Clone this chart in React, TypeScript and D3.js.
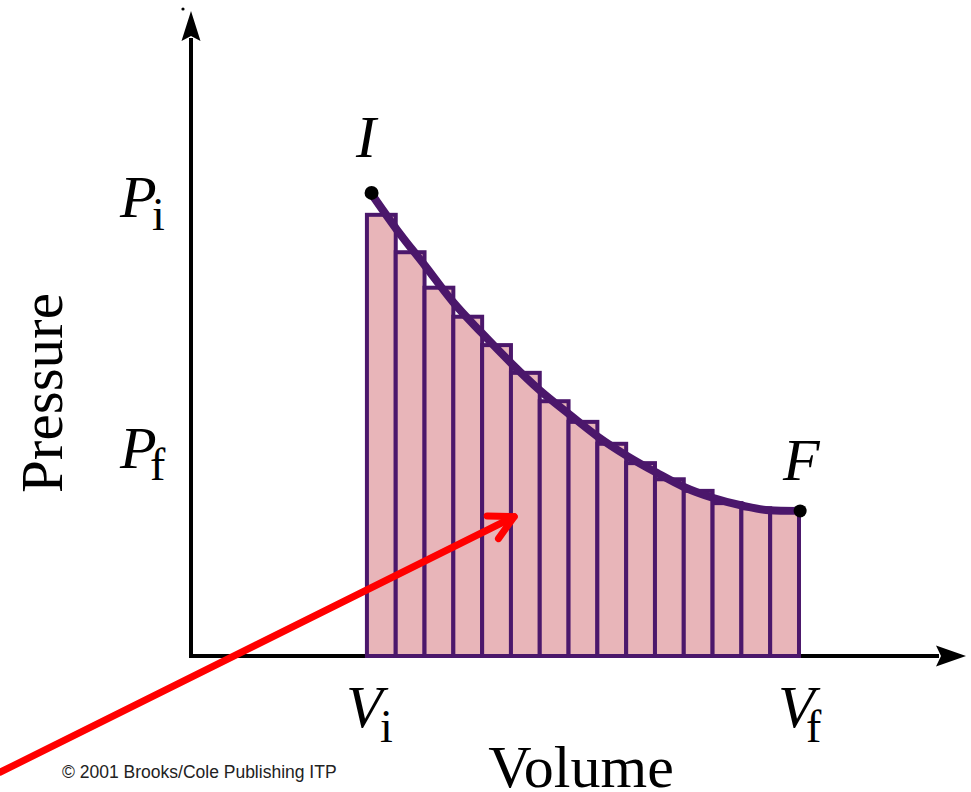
import React from "react";
import * as d3 from "d3";

// ---- data (arbitrary units: Volume 0-100, Pressure 0-100) ----
const V_I = 22.7;
const V_F = 78.45;
const barPressures = [68.4, 62.6, 57.1, 52.6, 48.2, 43.9, 39.5, 36.3, 32.9, 29.9, 27.4, 25.6, 23.7, 22.9, 22.5];
const curveVolumes = [23.2, 26.5, 30.2, 33.8, 37.5, 41.4, 45.0, 48.9, 52.5, 56.3, 60.1, 63.6, 67.4, 71.2, 74.6, 78.2];
const curvePressures = [71.8, 66.2, 60.5, 54.9, 50.1, 45.3, 41.2, 37.4, 34.0, 31.0, 28.4, 26.2, 24.5, 23.3, 22.6, 22.5];
const pointI = { v: 23.3, p: 71.8 };
const pointF = { v: 78.6, p: 22.5 };
const redArrowFrom = { v: -24.6, p: -18.0 };
const redArrowTo = { v: 41.7, p: 21.6 };
const xLabel = "Volume";
const yLabel = "Pressure";
const credit = "© 2001 Brooks/Cole Publishing ITP";

const W = 971;
const H = 792;
const PURPLE = "#4b176b";
const PINK = "#e8b5b9";
const SERIF = "'Liberation Serif', 'DejaVu Serif', serif";

export default function App() {
  const x = d3.scaleLinear().domain([0, 100]).range([191, 966]);
  const y = d3.scaleLinear().domain([0, 100]).range([656, 11]);
  const band = d3
    .scaleBand<number>()
    .domain(d3.range(barPressures.length))
    .range([x(V_I), x(V_F)])
    .padding(0);

  const curvePts: [number, number][] = curveVolumes.map((v, i) => [v, curvePressures[i]]);
  const line = d3
    .line<[number, number]>()
    .x((d) => x(d[0]))
    .y((d) => y(d[1]))
    .curve(d3.curveMonotoneX);

  const x0 = x(0);
  const y0 = y(0);
  const xEnd = x(100);
  const yEnd = y(100);

  // red arrow
  const ax0 = x(redArrowFrom.v), ay0 = y(redArrowFrom.p);
  const ax1 = x(redArrowTo.v), ay1 = y(redArrowTo.p);
  const ang = Math.atan2(ay0 - ay1, ax0 - ax1);
  const headLen = 27;
  const spread = (28 * Math.PI) / 180;
  const h1 = [ax1 + headLen * Math.cos(ang + spread), ay1 + headLen * Math.sin(ang + spread)];
  const h2 = [ax1 + headLen * Math.cos(ang - spread), ay1 + headLen * Math.sin(ang - spread)];

  const labelSize = 60;
  const subSize = 46;

  return (
    <svg
      width={W}
      height={H}
      style={{ position: "absolute", left: 0, top: 0, background: "#fff" }}
      xmlns="http://www.w3.org/2000/svg"
    >
      <rect x={0} y={0} width={W} height={H} fill="#fff" />
      {/* axes */}
      <path
        d={`M${x0},${yEnd + 27} L${x0},${y0} L${xEnd - 27},${y0}`}
        fill="none"
        stroke="#000"
        strokeWidth={4}
        strokeLinejoin="miter"
      />
      <path
        d={`M${x0},${yEnd} L${x0 + 9.5},${yEnd + 30} L${x0},${yEnd + 25} L${x0 - 9.5},${yEnd + 30} Z`}
        fill="#000"
      />
      <path
        d={`M${xEnd},${y0} L${xEnd - 30},${y0 - 10.5} L${xEnd - 25},${y0} L${xEnd - 30},${y0 + 10.5} Z`}
        fill="#000"
      />
      <circle cx={183} cy={9} r={1.6} fill="#000" />

      {/* bars */}
      {barPressures.map((p, i) => (
        <rect
          key={i}
          x={band(i)}
          y={y(p)}
          width={band.bandwidth()}
          height={y0 - y(p)}
          fill={PINK}
          stroke={PURPLE}
          strokeWidth={4}
        />
      ))}

      {/* curve */}
      <path d={line(curvePts) || ""} fill="none" stroke={PURPLE} strokeWidth={8} strokeLinecap="round" />
      <circle cx={x(pointI.v)} cy={y(pointI.p)} r={7} fill="#000" />
      <circle cx={x(pointF.v)} cy={y(pointF.p)} r={6.5} fill="#000" />

      {/* red arrow */}
      <g stroke="#ff0000" strokeWidth={7} strokeLinecap="round" fill="none">
        <line x1={ax0} y1={ay0} x2={ax1} y2={ay1} />
        <path d={`M${h1[0]},${h1[1]} L${ax1},${ay1} L${h2[0]},${h2[1]}`} strokeLinejoin="round" />
      </g>

      {/* labels */}
      <g fontFamily={SERIF} fill="#000">
        <text x={356} y={157} fontSize={labelSize} fontStyle="italic">I</text>
        <text x={783} y={480} fontSize={labelSize} fontStyle="italic">F</text>

        <text x={120} y={217} fontSize={labelSize} fontStyle="italic">P</text>
        <text x={152} y={230} fontSize={subSize}>i</text>
        <text x={120} y={468} fontSize={labelSize} fontStyle="italic">P</text>
        <text x={150} y={480} fontSize={subSize}>f</text>

        <text x={346} y={727} fontSize={labelSize} fontStyle="italic">V</text>
        <text x={380} y={742} fontSize={subSize}>i</text>
        <text x={778} y={727} fontSize={labelSize} fontStyle="italic">V</text>
        <text x={806} y={742} fontSize={subSize}>f</text>

        <text x={581} y={787} fontSize={60} textAnchor="middle">{xLabel}</text>
        <text
          x={0}
          y={0}
          fontSize={59}
          textAnchor="middle"
          transform={`translate(62,393) rotate(-90)`}
        >
          {yLabel}
        </text>
      </g>
      <text x={62} y={778} fontFamily="'Liberation Sans', Arial, sans-serif" fontSize={17.5} fill="#222">
        {credit}
      </text>
    </svg>
  );
}
